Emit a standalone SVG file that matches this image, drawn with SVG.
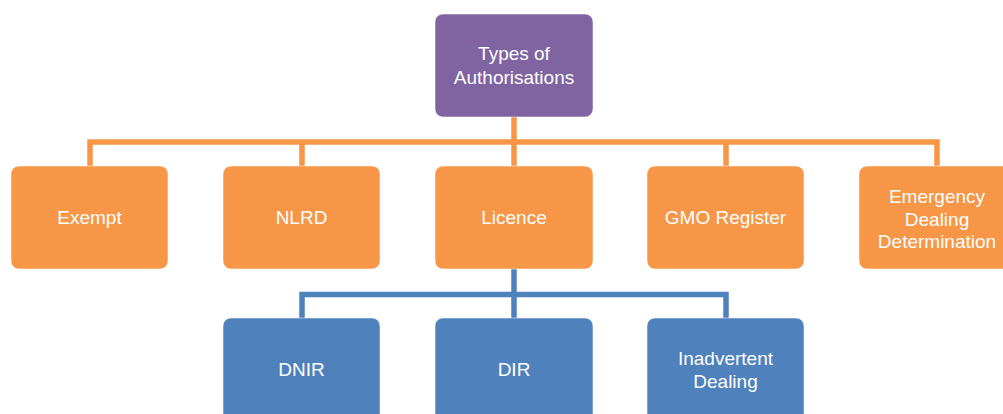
<svg xmlns="http://www.w3.org/2000/svg" width="1003" height="414" viewBox="0 0 1003 414">
<style>
.t{font-family:"Liberation Sans",Arial,sans-serif;font-size:19px;fill:#ffffff;text-anchor:middle}
.p{fill:#8064A2;stroke:#ffffff;stroke-opacity:0.5;stroke-width:1}
.o{fill:#F79646;stroke:#ffffff;stroke-opacity:0.5;stroke-width:1}
.b{fill:#4F81BD;stroke:#ffffff;stroke-opacity:0.5;stroke-width:1}
.co{fill:none;stroke:#F79646;stroke-width:5.5}
.cb{fill:none;stroke:#4F81BD;stroke-width:5.5}
</style>
<rect width="1003" height="414" fill="#ffffff"/>
<g id="connectors">
<path class="co" d="M514 117V166"/>
<path class="co" d="M90 166V142H937V166"/>
<path class="co" d="M302 142V166"/>
<path class="co" d="M726 142V166"/>
<path class="cb" d="M514 269V318"/>
<path class="cb" d="M302 318V294.5H726V318"/>
</g>
<g id="types">
<rect class="p" x="435" y="14" width="158" height="103" rx="8"/>
<text class="t" x="514" y="60">Types of</text>
<text class="t" x="514" y="83.5">Authorisations</text>
</g>
<g id="exempt">
<rect class="o" x="11" y="166" width="157" height="103" rx="8"/>
<text class="t" x="89.5" y="224">Exempt</text>
</g>
<g id="nlrd">
<rect class="o" x="223" y="166" width="157" height="103" rx="8"/>
<text class="t" x="301.5" y="224">NLRD</text>
</g>
<g id="licence">
<rect class="o" x="435" y="166" width="158" height="103" rx="8"/>
<text class="t" x="514" y="224">Licence</text>
</g>
<g id="gmo">
<rect class="o" x="647" y="166" width="157" height="103" rx="8"/>
<text class="t" x="725.5" y="224">GMO Register</text>
</g>
<g id="emergency">
<rect class="o" x="859" y="166" width="157" height="103" rx="8"/>
<text class="t" x="937" y="202.5">Emergency</text>
<text class="t" x="937" y="225.5">Dealing</text>
<text class="t" x="937" y="248">Determination</text>
</g>
<g id="dnir">
<rect class="b" x="223" y="318" width="157" height="103" rx="8"/>
<text class="t" x="301.5" y="376">DNIR</text>
</g>
<g id="dir">
<rect class="b" x="435" y="318" width="158" height="103" rx="8"/>
<text class="t" x="514" y="376">DIR</text>
</g>
<g id="inadvertent">
<rect class="b" x="647" y="318" width="157" height="103" rx="8"/>
<text class="t" x="725.5" y="365">Inadvertent</text>
<text class="t" x="725.5" y="388">Dealing</text>
</g>
</svg>
